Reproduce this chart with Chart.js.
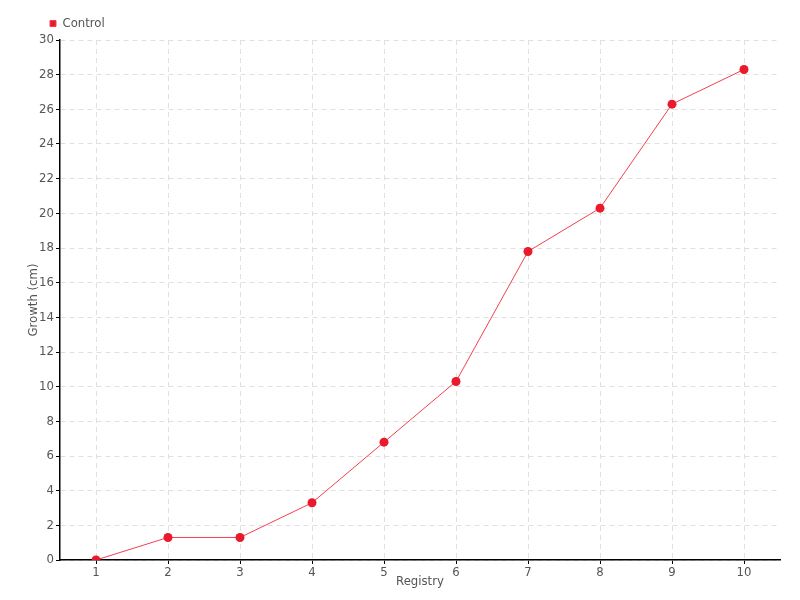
<!DOCTYPE html>
<html>
<head>
<meta charset="utf-8">
<script src="https://cdn.jsdelivr.net/npm/chart.js@4/dist/chart.umd.min.js"></script>
<style>
    html, body { margin: 0; padding: 0; background: #fff; }
    #wrap { width: 800px; height: 600px; }
</style>
</head>
<body>
<div id="wrap"><canvas id="growthChart" width="800" height="600"></canvas></div>
<script>
// Chart data
const registryLabels = ['1', '2', '3', '4', '5', '6', '7', '8', '9', '10'];
const controlValues = [0, 1.3, 1.3, 3.3, 6.8, 10.3, 17.8, 20.3, 26.3, 28.3];
const seriesName = 'Control';
const xTitle = 'Registry';
const yTitle = 'Growth (cm)';

const textColor = '#555555';
const fontFamily = "'Liberation Sans Narrow', 'DejaVu Sans Condensed', sans-serif";

// Fix the legend band height and nudge it into place
const legendBand = {
    id: 'legendBand',
    beforeInit: (chart) => {
        const lg = chart.legend;
        if (!lg) return;
        const origFit = lg.fit;
        lg.fit = function () {
            origFit.call(this);
            this.height = 40;
        };
    },
    afterLayout: (chart) => {
        if (chart.legend) {
            chart.legend.left += 40;
            chart.legend.top += 7;
        }
    },
};

const ctx = document.getElementById('growthChart').getContext('2d');
new Chart(ctx, {
    type: 'line',
    data: {
        labels: registryLabels,
        datasets: [
            {
                label: seriesName,
                data: controlValues,
                borderColor: '#f4404f',
                backgroundColor: '#e81a2b',
                borderWidth: 1,
                pointRadius: 4.5,
                pointBackgroundColor: '#e81a2b',
                pointBorderColor: '#e81a2b',
                pointBorderWidth: 0,
                tension: 0,
            },
        ],
    },
    options: {
        responsive: false,
        animation: false,
        layout: { padding: { left: 0, right: 20, top: 0, bottom: 0 } },
        plugins: {
            legend: {
                position: 'top',
                align: 'start',
                labels: {
                    boxWidth: 6,
                    boxHeight: 6,
                    padding: 10,
                    color: textColor,
                    font: { family: fontFamily, size: 13 },
                },
            },
            tooltip: { enabled: false },
        },
        scales: {
            x: {
                offset: true,
                afterFit: (scale) => { scale.height = 40; },
                grid: {
                    offset: false,
                    color: '#e0e0e0',
                    tickColor: '#000',
                    tickLength: 4,
                    tickBorderDash: [],
                },
                border: { color: '#000', width: 1.5, dash: [5, 4] },
                ticks: {
                    color: textColor,
                    padding: 1,
                    font: { family: fontFamily, size: 13 },
                },
                title: {
                    display: true,
                    text: xTitle,
                    color: textColor,
                    padding: { top: 0, bottom: 11 },
                    font: { family: fontFamily, size: 13 },
                },
            },
            y: {
                min: 0,
                max: 30,
                afterFit: (scale) => { scale.width = 60; },
                grid: {
                    color: '#e0e0e0',
                    tickColor: '#000',
                    tickLength: 4,
                    tickBorderDash: [],
                },
                border: { color: '#000', width: 1.5, dash: [5, 4] },
                ticks: {
                    stepSize: 2,
                    color: textColor,
                    padding: 2,
                    font: { family: fontFamily, size: 13 },
                },
                title: {
                    display: true,
                    text: yTitle,
                    color: textColor,
                    padding: { top: 26, bottom: 0 },
                    font: { family: fontFamily, size: 13 },
                },
            },
        },
    },
    plugins: [legendBand],
});
</script>
</body>
</html>
